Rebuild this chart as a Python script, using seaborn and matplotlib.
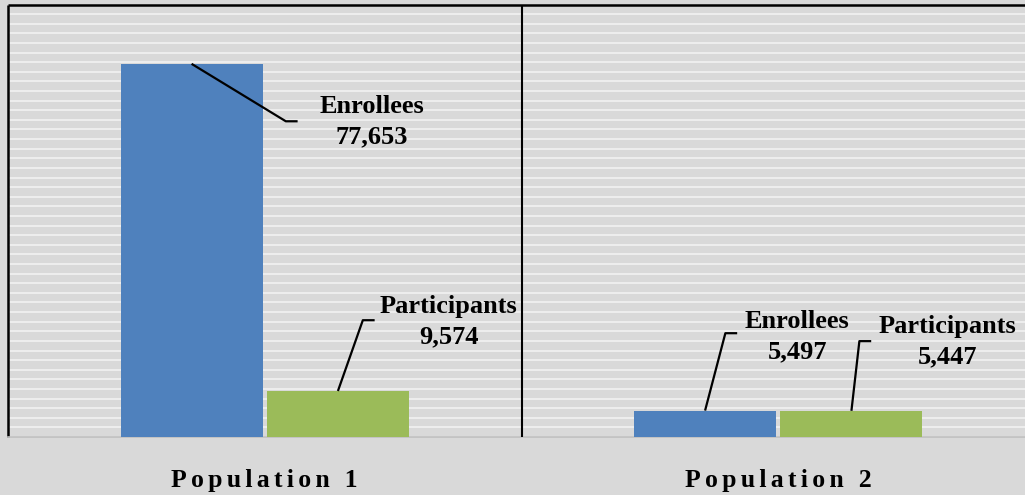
import pandas as pd
import matplotlib.pyplot as plt
import seaborn as sns

# data
populations = ['Population 1', 'Population 2']
groups = ['Enrollees', 'Participants']
enrollees = [77653, 5497]
participants = [9574, 5447]

blue = '#4f81bd'
green = '#9bbb59'
bg = '#d9d9d9'

df = pd.DataFrame({
    'population': populations * 2,
    'group': [groups[0]] * 2 + [groups[1]] * 2,
    'count': enrollees + participants,
})

sns.set_style('white')
plt.rcParams['font.family'] = ['Liberation Serif', 'DejaVu Serif']
plt.rcParams['text.color'] = 'black'
plt.rcParams['xtick.color'] = 'black'

fig = plt.figure(figsize=(10.25, 4.95), dpi=100, facecolor=bg)
ax = fig.add_axes([8 / 1025, 58 / 495, 1027 / 1025, 432.5 / 495])
ax.set_facecolor(bg)

sns.barplot(data=df, x='population', y='count', hue='group',
            palette=[blue, green], width=0.57, gap=0.03, saturation=1,
            linewidth=0, edgecolor='none', legend=False, ax=ax, zorder=3)

ax.set_xlim(-0.5, 1.5)
ax.set_ylim(0, 90000)
ax.set_yticks(range(0, 90001, 2000))
ax.set_yticklabels([])
ax.grid(axis='y', color='#f0f0f0', linewidth=1.3, zorder=0)
ax.set_axisbelow(True)
ax.axvline(0.5, color='black', linewidth=1.5, zorder=4)

for side in ['top', 'left']:
    ax.spines[side].set_color('black')
    ax.spines[side].set_linewidth(1.8)
    ax.spines[side].set_capstyle('butt')
ax.spines['bottom'].set_color('#bfbfbf')
ax.spines['bottom'].set_linewidth(1.2)
ax.spines['right'].set_visible(False)

ax.set_xlabel('')
ax.set_ylabel('')
spaced = ['\u2006'.join(p) for p in populations]
ax.set_xticks([0, 1])
ax.set_xticklabels(spaced, fontsize=18.5, fontweight='bold', color='black')
ax.tick_params(axis='x', length=0, pad=23)
ax.tick_params(axis='y', length=0)

# leader-line label placement (elbow x, elbow y, text x, text y), patch order
label_pos = [
    (0.041, 65700, 0.208, 65700),
    (0.897, 21600, 1.037, 20800),
    (0.191, 24300, 0.358, 24000),
    (1.158, 19950, 1.329, 19750),
]
labels = [groups[0]] * 2 + [groups[1]] * 2
values = enrollees + participants

for bar, (ex, ey, tx, ty), name, val in zip(ax.patches, label_pos, labels, values):
    bx = bar.get_x() + bar.get_width() / 2
    by = bar.get_height()
    ax.plot([bx, ex, ex + 0.023], [by, ey, ey], color='black', lw=1.6,
            zorder=5, solid_capstyle='butt')
    ax.text(tx, ty, f'{name}\n{val:,}', ha='center', va='center', color='black',
            fontsize=19, fontweight='bold', linespacing=1.4, zorder=6)

fig.savefig('out.png', dpi=100, facecolor=bg)
